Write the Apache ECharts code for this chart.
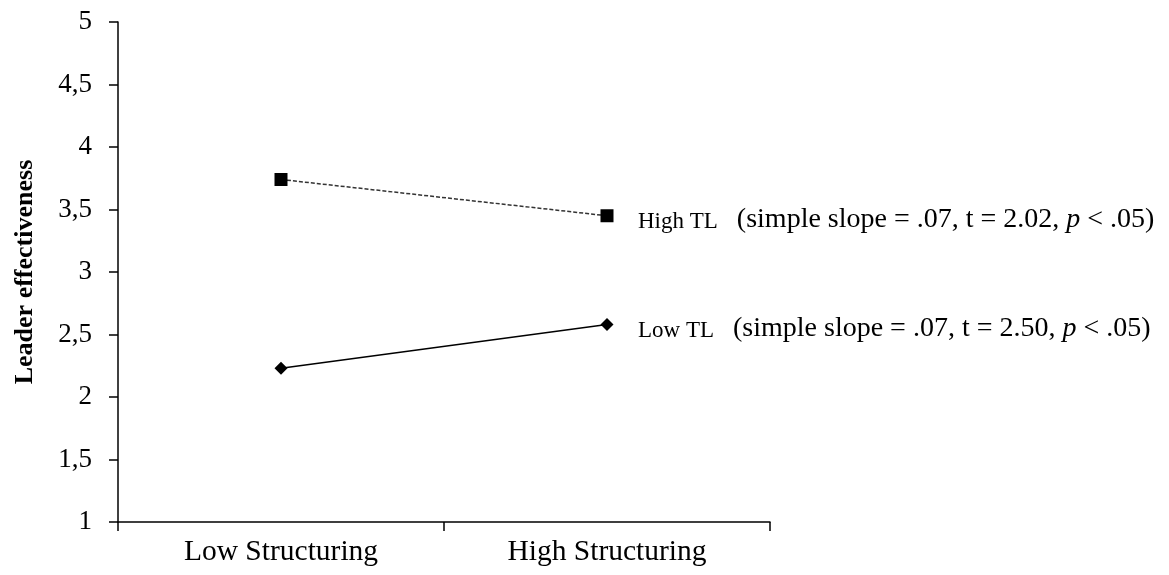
<!DOCTYPE html>
<html>
<head>
<meta charset="utf-8">
<script src="https://cdn.jsdelivr.net/npm/echarts@6/dist/echarts.min.js"></script>
<style>
  html, body { margin: 0; padding: 0; background: #fff; }
  #main { width: 1169px; height: 575px; }
</style>
</head>
<body>
<div id="main"></div>
<script>
var categories = ["Low Structuring", "High Structuring"];
var highTL = [3.74, 3.45];
var lowTL = [2.23, 2.58];
var yTicks = { min: 1, max: 5, step: 0.5 };
var highNote = ["High TL", "(simple slope = .07, t = 2.02, ", "p", " < .05)"];
var lowNote = ["Low TL", "(simple slope = .07, t = 2.50, ", "p", " < .05)"];

var serif = '"Liberation Serif", "Times New Roman", serif';
var chart = echarts.init(document.getElementById("main"));

function noteLabel(parts) {
  return {
    show: true,
    distance: 31,
    offset: [0, 4],
    fontFamily: serif,
    color: "#000",
    formatter: "{n|" + parts[0] + "}   {t|" + parts[1] + "}{i|" + parts[2] + "}{t|" + parts[3] + "}",
    rich: {
      n: { fontFamily: serif, fontSize: 23, color: "#000", verticalAlign: "bottom", padding: [0, 10, 0, 0] },
      t: { fontFamily: serif, fontSize: 28, color: "#000", verticalAlign: "bottom" },
      i: { fontFamily: serif, fontSize: 28, fontStyle: "italic", color: "#000", verticalAlign: "bottom" }
    }
  };
}

var option = {
  backgroundColor: "#fff",
  animation: false,
  grid: { left: 118, right: 399, top: 22, bottom: 53, outerBoundsMode: "none", containLabel: false },
  xAxis: {
    type: "category",
    data: categories,
    boundaryGap: true,
    axisLine: { lineStyle: { color: "#000", width: 1.5 } },
    axisTick: { show: true, length: 9, lineStyle: { color: "#000", width: 1.5 } },
    axisLabel: { fontFamily: serif, fontSize: 29.5, color: "#000", margin: 15 }
  },
  yAxis: {
    type: "value",
    min: yTicks.min,
    max: yTicks.max,
    interval: yTicks.step,
    name: "Leader effectiveness",
    nameLocation: "middle",
    nameGap: 80,
    nameTextStyle: { fontFamily: serif, fontSize: 26, fontWeight: "bold", color: "#000" },
    axisLine: { show: true, lineStyle: { color: "#000", width: 1.5 } },
    axisTick: { show: true, length: 9, lineStyle: { color: "#000", width: 1.5 } },
    splitLine: { show: false },
    axisLabel: {
      fontFamily: serif, fontSize: 27, color: "#000", margin: 26,
      formatter: function (v) { return String(v).replace(".", ","); }
    }
  },
  series: [
    {
      name: "High TL",
      type: "line",
      data: highTL,
      symbol: "rect",
      symbolSize: 13,
      itemStyle: { color: "#000" },
      lineStyle: { color: "#333", width: 1.5, type: [4, 2] },
      endLabel: noteLabel(highNote)
    },
    {
      name: "Low TL",
      type: "line",
      data: lowTL,
      symbol: "diamond",
      symbolSize: 13,
      itemStyle: { color: "#000" },
      lineStyle: { color: "#000", width: 1.5 },
      endLabel: noteLabel(lowNote)
    }
  ]
};

chart.setOption(option);
</script>
</body>
</html>
